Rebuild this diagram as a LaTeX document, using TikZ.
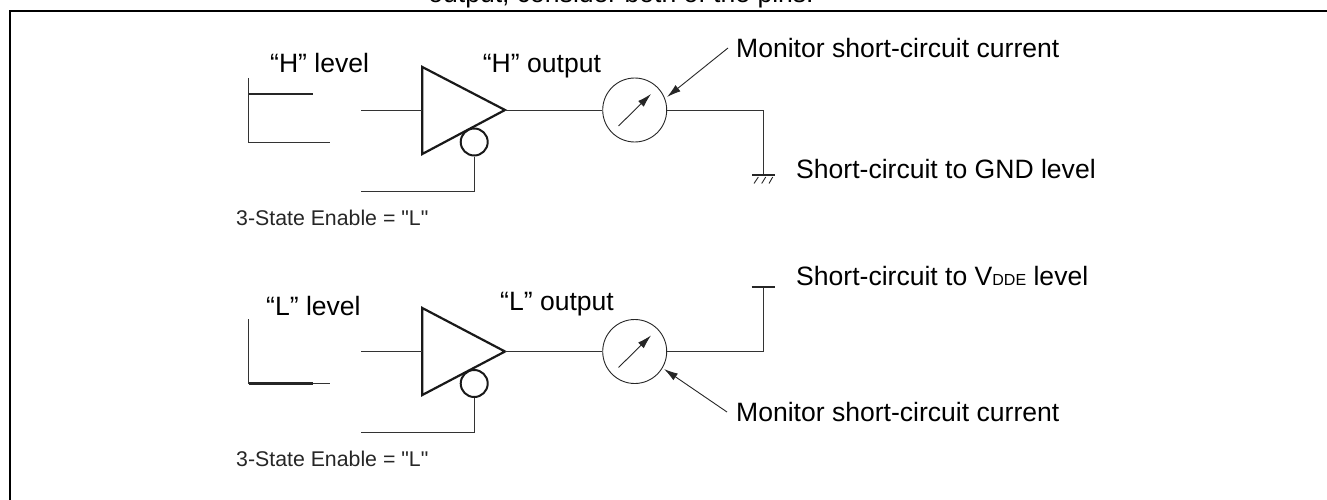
\documentclass[tikz,border=0pt]{standalone}
\usepackage{fontspec}
\setmainfont{Liberation Sans}
\newfontfamily\plainsans{Liberation Sans}
\usetikzlibrary{arrows.meta}
\tikzset{
  wire/.style={line width=.9pt,draw=black!80},
  thick wire/.style={line width=2.1pt,draw=black!85},
  sym/.style={line width=2.2pt,draw=black!90},
  dial/.style={circle,draw=black!85,line width=.9pt,minimum size=64pt,inner sep=0pt,fill=white},
  bubble/.style={circle,draw=black!90,line width=2pt,minimum size=27pt,inner sep=0pt,fill=white},
  tip/.style={-{Latex[length=14pt,width=8pt]},line width=.9pt,draw=black!85},
  big/.style={inner sep=0pt,anchor=base west,font=\fontsize{26.55}{26.55}\selectfont},
  small/.style={inner sep=0pt,anchor=base west,font=\plainsans\fontsize{21.3}{21.3}\selectfont,text=black!85},
}
\begin{document}
\begin{tikzpicture}[x=1pt,y=-1pt]
\useasboundingbox (0,0) rectangle (1327,500);
\begin{scope}
\clip (0,0) rectangle (1327,500);
\draw[line width=2.2pt] (10,510) -- (10,11) -- (1337,11);
\node[big,anchor=base] (cap) at (621,3) {output, consider both of the pins.};
\end{scope}
% upper
\coordinate (wt1) at (248.5,78); \coordinate (wb1) at (248.5,142); \coordinate (we1) at (330,142);
\coordinate (hi1) at (248.5,94); \coordinate (hie1) at (313,94);
\draw[wire] (wt1) -- (wb1) -- (we1);
\draw[thick wire] (hi1) -- (hie1);
\coordinate (in1) at (361,110); \coordinate (en1) at (361,191);
\coordinate (ta1) at (422.3,67); \coordinate (tb1) at (422.3,154); \coordinate (tc1) at (505,110);
\node[bubble] (bb1) at (474.2,142) {};
\draw[sym,line join=miter] (ta1) -- (tb1) -- (tc1) -- cycle;
\draw[wire] (in1) -- (422,110);
\draw[wire] (en1) -| (bb1.south);
\node[dial] (m1) at (634.7,110) {};
\draw[wire] (tc1) -- (m1.west);
\coordinate (g1) at (763.3,175);
\draw[wire] (m1.east) -| (g1);
\draw[line width=2pt,draw=black!85] (752,175) -- (775,175);
\draw[line width=.9pt,draw=black!85] (758.3,177) -- (754,183.5) (765.7,177) -- (761.7,183.5) (772.7,177) -- (769,183.5);
\coordinate (nl1) at (618.5,126); \coordinate (nh1) at (651,94);
\draw[tip] (nl1) -- (nh1);
\coordinate (pt1) at (728,48);
\draw[tip] (pt1) -- (667,97);
\node[big] (t1) at (270,72.7) {“H” level};
\node[big] (t2) at (482.7,72.7) {“H” output};
\node[big] (t3) at (736,58) {Monitor short-circuit current};
\node[big] (t4) at (796,178.5) {Short-circuit to GND level};
\node[small] (t5) at (236,225) {3-State Enable = "L"};
% lower
\coordinate (wt2) at (248.5,319); \coordinate (wb2) at (248.5,383.5); \coordinate (we2) at (330,383.5);
\coordinate (loe2) at (313,383.5);
\draw[wire] (wt2) -- (wb2) -- (we2);
\draw[thick wire] (wb2) -- (loe2);
\coordinate (in2) at (361,351.5); \coordinate (en2) at (361,432);
\coordinate (ta2) at (422.3,308); \coordinate (tb2) at (422.3,395); \coordinate (tc2) at (505,351.5);
\node[bubble] (bb2) at (474.2,383.5) {};
\draw[sym,line join=miter] (ta2) -- (tb2) -- (tc2) -- cycle;
\draw[wire] (in2) -- (422,351.5);
\draw[wire] (en2) -| (bb2.south);
\node[dial] (m2) at (634.7,351.5) {};
\draw[wire] (tc2) -- (m2.west);
\coordinate (g2) at (763.3,287);
\draw[wire] (m2.east) -| (g2);
\draw[line width=2pt,draw=black!85] (751.5,287) -- (775,287);
\coordinate (nl2) at (618.5,367.5); \coordinate (nh2) at (651,335.5);
\draw[tip] (nl2) -- (nh2);
\coordinate (pt2) at (727,412);
\draw[tip] (pt2) -- (664,369);
\node[big] (b1) at (266,315) {“L” level};
\node[big] (b2) at (500,310) {“L” output};
\node[big] (b3) at (736,421) {Monitor short-circuit current};
\node[big] (b4) at (796,285) {Short-circuit to V{\fontsize{16}{16}\selectfont DDE} level};
\node[small] (b5) at (236,466) {3-State Enable = "L"};
\end{tikzpicture}
\end{document}
